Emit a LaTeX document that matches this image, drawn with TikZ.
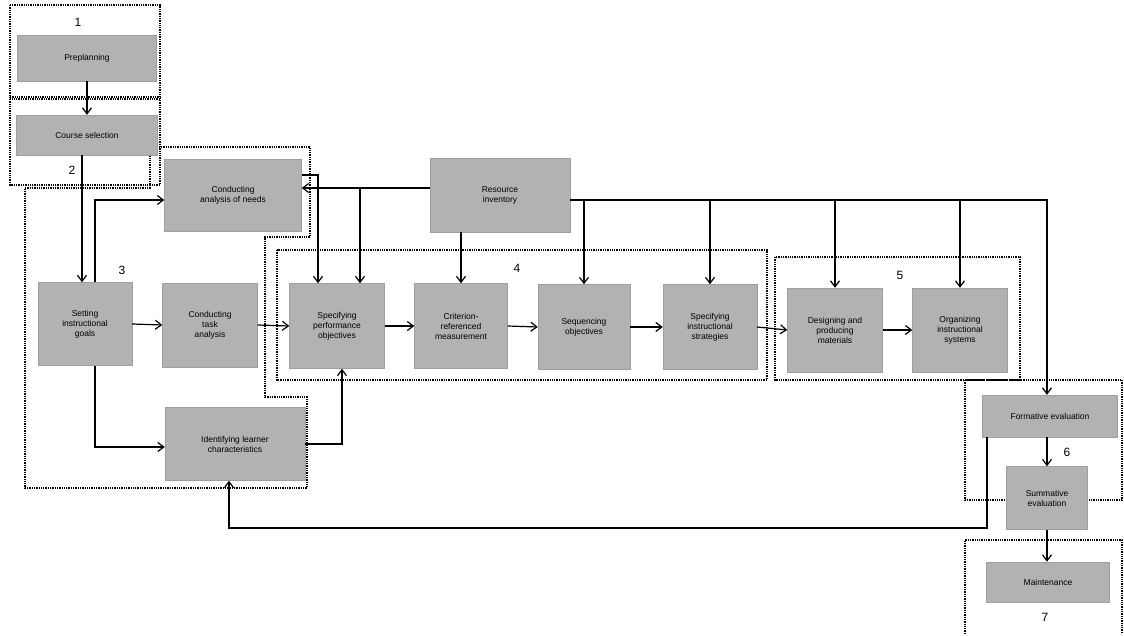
\documentclass[tikz,border=0pt]{standalone}
\usepackage{fontspec}
\setmainfont{Liberation Sans}
\usetikzlibrary{arrows.meta,calc}
\begin{document}
\begin{tikzpicture}[x=1pt,y=-1pt,
  box/.style={draw=gray!75,fill=gray!60,align=center,inner sep=1pt,font=\fontsize{8.5}{10}\selectfont,text=black},
  arr/.style={line width=1.2pt,-{Straight Barb[length=6pt,width=9pt,line width=1.2pt]}},
  grp/.style={densely dotted,line width=1.3pt},
  num/.style={font=\fontsize{12}{12}\selectfont}]
\useasboundingbox (0,0) rectangle (1124,636);
% group frames
\draw[grp] (10,5) rectangle (160,97);
\draw[grp] (10,99) rectangle (160,185);
\draw[grp] (25,188) -- (150,188) -- (150,147) -- (310,147) -- (310,237) -- (265,237) -- (265,397) -- (307,397) -- (307,488) -- (25,488) -- cycle;
\draw[grp] (277,250) rectangle (767,380);
\draw[grp] (775,257) rectangle (1020,380);
\draw[grp] (965,380) rectangle (1122,500);
\draw[grp] (965,634) -- (965,540) -- (1122,540) -- (1122,634);
% numbers
\node[num] (n1) at (78,22) {1};
\node[num] (n2) at (72,170) {2};
\node[num] (n3) at (122,270) {3};
\node[num] (n4) at (517,268) {4};
\node[num] (n5) at (900,275) {5};
\node[num] (n6) at (1067,452) {6};
\node[num] (n7) at (1045,617) {7};
% boxes
\node[box,minimum width=139pt,minimum height=46pt] (pre) at (87,58) {Preplanning};
\node[box,minimum width=141pt,minimum height=40pt] (course) at (87,135) {Course selection};
\node[box,minimum width=137pt,minimum height=72pt] (cond) at (233,195) {Conducting\\analysis of needs};
\node[box,minimum width=140pt,minimum height=74pt] (res) at (500,195) {Resource\\inventory};
\node[box,minimum width=94pt,minimum height=83pt] (set) at (85,324) {Setting\\instructional\\goals};
\node[box,minimum width=95pt,minimum height=84pt] (task) at (210,325) {Conducting\\task\\analysis};
\node[box,minimum width=95pt,minimum height=85pt] (spo) at (337,326) {Specifying\\performance\\objectives};
\node[box,minimum width=93pt,minimum height=85pt] (crm) at (461,326) {Criterion-\\referenced\\measurement};
\node[box,minimum width=92pt,minimum height=85pt] (seq) at (584,327) {Sequencing\\objectives};
\node[box,minimum width=94pt,minimum height=85pt] (sis) at (710,327) {Specifying\\instructional\\strategies};
\node[box,minimum width=95pt,minimum height=84pt] (dpm) at (835,330) {Designing and\\producing\\materials};
\node[box,minimum width=95pt,minimum height=84pt] (org) at (960,330) {Organizing\\instructional\\systems};
\node[box,minimum width=140pt,minimum height=73pt] (ident) at (235,444) {Identifying learner\\characteristics};
\node[box,minimum width=135pt,minimum height=42pt] (form) at (1050,416) {Formative evaluation};
\node[box,minimum width=81pt,minimum height=63pt] (summ) at (1047,498) {Summative\\evaluation};
\node[box,minimum width=123pt,minimum height=40pt] (maint) at (1048,582) {Maintenance};
% helper coordinates
\coordinate (cj) at ([yshift=7pt]cond.east);
\coordinate (rj) at ([yshift=7pt]res.west);
\coordinate (re) at ([yshift=-5pt]res.east);
\coordinate (sA) at ([xshift=23pt]spo.north);
\coordinate (sB) at ([xshift=-19pt]spo.north);
\coordinate (ct) at ([yshift=20pt]cond.east);
\coordinate (fn) at ([xshift=-3pt]form.north);
\coordinate (fs) at ([xshift=-3pt]form.south);
\coordinate (cs) at ([xshift=-5pt]course.south);
\coordinate (sn) at ([xshift=10pt]set.north);
\coordinate (ss) at ([xshift=10pt]set.south);
\coordinate (cw) at ([yshift=-5pt]cond.west);
\coordinate (iw) at ([yshift=-3pt]ident.west);
\coordinate (sps) at ([xshift=5pt]spo.south);
\coordinate (is) at ([xshift=-6pt]ident.south);
% connectors
\draw[arr] (pre.south) -- (course.north);
\draw[arr] (cs) -- (cs |- set.north);
\draw[arr] (sn) |- (cw);
\draw[arr] (ss) |- (iw);
\draw[arr] (set.east) -- (task.west);
\draw[arr] (task.east) -- (spo.west);
\draw[arr] (spo.east) -- (crm.west);
\draw[arr] (crm.east) -- (seq.west);
\draw[arr] (seq.east) -- (sis.west);
\draw[arr] (sis.east) -- (dpm.west);
\draw[arr] (dpm.east) -- (org.west);
\draw[arr] (rj) -- (cj);
\draw[arr] (sA |- cj) -- (sA);
\draw[arr] (ct) -| (sB);
\draw[arr] (res.south -| crm.north) -- (crm.north);
\draw[arr] (re) -| (fn);
\draw[arr] (re -| seq.north) -- (seq.north);
\draw[arr] (re -| sis.north) -- (sis.north);
\draw[arr] (re -| dpm.north) -- (dpm.north);
\draw[arr] (re -| org.north) -- (org.north);
\draw[arr] (ident.east) -| (sps);
\coordinate (fb) at (987,528);
\draw[arr] (fb |- form.south) -- (fb) -| (is);
\draw[arr] (fs) -- (fs |- summ.north);
\draw[arr] (summ.south) -- (summ.south |- maint.north);
\end{tikzpicture}
\end{document}
